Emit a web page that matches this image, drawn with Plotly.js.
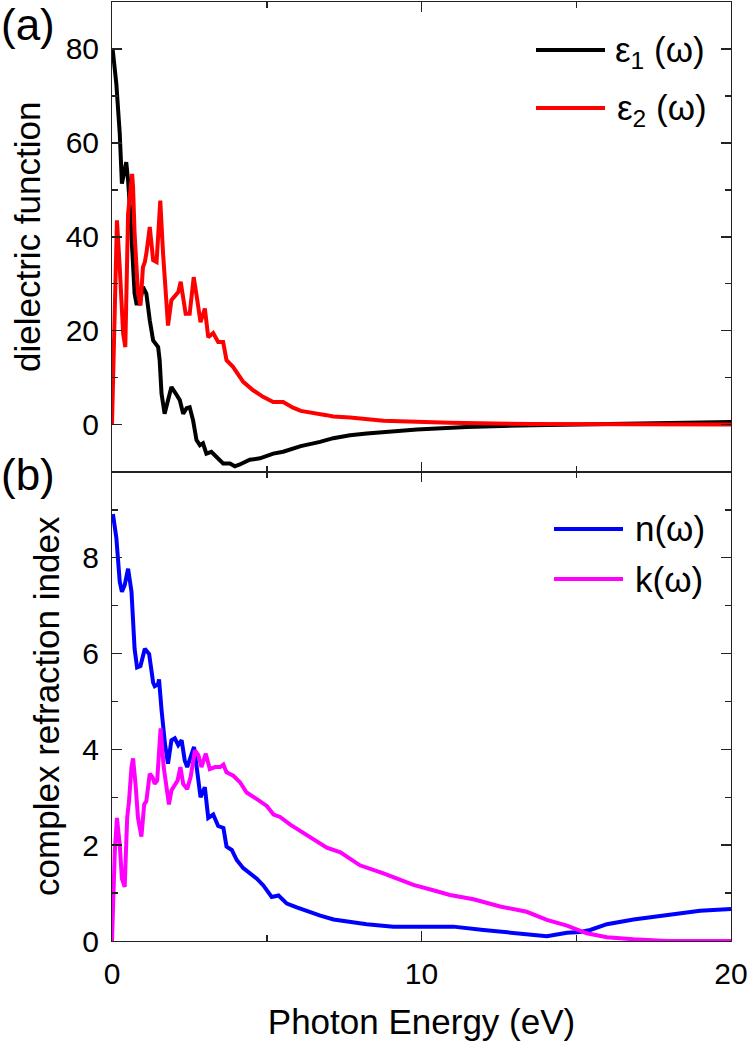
<!DOCTYPE html>
<html>
<head>
<meta charset="utf-8">
<script src="https://cdn.plot.ly/plotly-3.0.1.min.js"></script>
<style>html,body{margin:0;padding:0;background:#fff;}#chart{width:748px;height:1042px;}</style>
</head>
<body>
<div id="chart"></div>
<script>
// ---- data ----
const eps1E = [0.02,0.14,0.25,0.30,0.32,0.46,0.52,0.59,0.63,0.68,0.73,0.79,0.90,1.0,1.11,1.22,1.33,1.49,1.54,1.60,1.70,1.81,1.92,2.06,2.19,2.30,2.41,2.51,2.62,2.73,2.84,2.94,3.05,3.21,3.38,3.59,3.81,3.97,4.13,4.45,4.78,5.21,5.53,5.85,6.1,6.72,7.15,7.69,8.23,9.85,11.46,13.6,15.8,17.9,20];
const eps1  = [80,72.6,62,52.7,51.3,55.9,52,45,40.7,33.5,27.9,25.8,25.8,29.3,27.9,22.2,17.9,16.5,13.7,6.6,2.3,5.2,8.0,6.6,5.2,2.3,3.5,3.7,0.9,-3.3,-4.4,-4.0,-6.2,-5.8,-6.9,-8.3,-8.3,-8.9,-8.5,-7.5,-7.2,-6.2,-5.8,-5.1,-4.6,-3.7,-2.9,-2.3,-1.9,-1.07,-0.5,-0.15,0.06,0.34,0.55];

const eps2E = [0,0.16,0.25,0.36,0.43,0.52,0.65,0.68,0.73,0.84,0.92,1.0,1.06,1.11,1.22,1.33,1.44,1.56,1.65,1.74,1.81,1.92,2.03,2.14,2.22,2.30,2.38,2.51,2.64,2.74,2.86,3.0,3.11,3.27,3.43,3.59,3.70,3.91,4.24,4.56,4.88,5.21,5.53,5.85,6.1,6.93,7.15,7.69,8.77,10.9,13.6,16.5,20];
const eps2  = [0,43.5,33.5,19.4,16.5,44.9,53.4,50.6,40.7,27.9,25.4,33.5,34.6,36.4,42.1,35,34.6,47.7,36.4,26.5,21.1,26.5,27.5,28.2,30.4,26.5,23.6,23.6,31.4,27.2,21.8,24.7,18.6,19.5,17.6,17.6,13.7,12.3,9.1,7.3,5.9,4.8,4.8,3.6,2.9,2.0,1.7,1.5,0.8,0.4,0.1,0.05,0.0];

const nE = [0.03,0.14,0.25,0.32,0.41,0.52,0.63,0.68,0.73,0.81,0.92,1.06,1.2,1.33,1.38,1.49,1.52,1.60,1.71,1.81,1.92,2.03,2.14,2.25,2.35,2.43,2.54,2.65,2.75,2.86,3.0,3.11,3.27,3.43,3.6,3.70,3.87,4.03,4.24,4.46,4.68,4.89,5.16,5.38,5.65,5.97,6.30,6.73,7.16,7.70,8.23,9.09,10.06,11.03,12.0,13.08,14.05,14.7,15.13,15.45,15.99,16.85,17.93,19.0,20];
const nVal = [8.91,8.42,7.5,7.29,7.43,7.77,7.29,6.66,6.10,5.71,5.74,6.10,5.99,5.39,5.32,5.36,5.46,4.83,4.12,3.70,4.19,4.23,4.09,4.19,3.77,3.63,3.84,4.05,3.56,3.0,3.21,2.57,2.64,2.40,2.36,1.97,1.90,1.69,1.52,1.41,1.30,1.16,0.92,0.95,0.78,0.70,0.62,0.53,0.45,0.39,0.35,0.30,0.30,0.30,0.23,0.17,0.10,0.17,0.19,0.23,0.35,0.45,0.54,0.63,0.67];

const kE = [0,0.09,0.16,0.25,0.32,0.41,0.49,0.55,0.63,0.68,0.76,0.84,0.95,1.04,1.11,1.22,1.31,1.38,1.46,1.57,1.67,1.84,1.92,2.03,2.12,2.21,2.30,2.43,2.54,2.68,2.79,2.89,3.03,3.16,3.33,3.49,3.60,3.70,3.92,4.14,4.35,4.68,5.0,5.22,5.43,5.76,6.08,6.51,6.94,7.38,8.01,8.77,9.74,10.38,10.92,11.68,12.54,13.4,14.05,14.7,15.34,15.99,16.85,17.93,20];
const kVal = [0,1.87,2.57,2.01,1.30,1.13,2.57,2.92,3.63,3.81,3.28,2.57,2.18,2.85,2.92,3.49,3.42,3.28,3.35,4.44,3.63,2.85,3.14,3.28,3.35,3.63,3.28,3.17,3.42,3.98,3.88,3.63,3.91,3.59,3.63,3.63,3.68,3.52,3.45,3.31,3.10,2.96,2.82,2.64,2.59,2.43,2.30,2.12,1.95,1.85,1.58,1.41,1.17,1.06,0.96,0.87,0.72,0.61,0.44,0.32,0.16,0.08,0.035,0.0,0.0];

const seriesNames = ['ε<sub>1</sub> (ω)', 'ε<sub>2</sub> (ω)', 'n(ω)', 'k(ω)'];
const seriesColors = ['#000000', '#ff0000', '#0000ff', '#ff00ff'];
const xTitle = 'Photon Energy (eV)';
const yTitleA = 'dielectric function';
const yTitleB = 'complex refraction index';

// ---- layout helpers ----
const W = 748, H = 1042;
const M = {l: 112, r: 17, t: 2, b: 101};
const PW = W - M.l - M.r, PH = H - M.t - M.b;
const px2x = p => (p - M.l) / PW;
const px2y = p => (H - M.b - p) / PH;

const FONT = 'Liberation Sans, Arial, Helvetica, sans-serif';
const LW = 4;

function mk(x, y, i, xa, ya) {
  return {x: x, y: y, type: 'scatter', mode: 'lines', name: seriesNames[i],
    xaxis: xa, yaxis: ya, showlegend: false,
    line: {color: seriesColors[i], width: LW}};
}
const traces = [
  mk(eps1E, eps1, 0, 'x', 'y'),
  mk(eps2E, eps2, 1, 'x', 'y'),
  mk(nE, nVal, 2, 'x2', 'y2'),
  mk(kE, kVal, 3, 'x2', 'y2')
];

const axCommon = {
  showline: true, linecolor: '#222', linewidth: 1, mirror: 'allticks',
  ticks: 'inside', ticklen: 10, tickwidth: 1.5, tickcolor: '#222',
  showgrid: false, zeroline: false,
  tickfont: {family: FONT, size: 30, color: '#000'}
};
const minorCommon = {ticks: 'inside', ticklen: 6, tickwidth: 1.5, tickcolor: '#222', showgrid: false};

const layout = {
  width: W, height: H,
  margin: {l: M.l, r: M.r, t: M.t, b: M.b, pad: 0},
  paper_bgcolor: '#fff', plot_bgcolor: '#fff',
  showlegend: false,
  font: {family: FONT, color: '#000'},
  xaxis: Object.assign({}, axCommon, {
    domain: [0, 1], anchor: 'y', range: [0, 20], tick0: 0, dtick: 10,
    showticklabels: false, minor: Object.assign({dtick: 5}, minorCommon)
  }),
  yaxis: Object.assign({}, axCommon, {
    domain: [0.5, 1], anchor: 'x', range: [-10, 90], tick0: 0, dtick: 20,
    minor: Object.assign({dtick: 10}, minorCommon), ticklabelstandoff: 6,
    title: {text: yTitleA, font: {family: FONT, size: 35}, standoff: 14}
  }),
  xaxis2: Object.assign({}, axCommon, {
    domain: [0, 1], anchor: 'y2', range: [0, 20], tick0: 0, dtick: 10,
    minor: Object.assign({dtick: 5}, minorCommon), ticklabelstandoff: 6,
    title: {text: xTitle, font: {family: FONT, size: 35}, standoff: 20}
  }),
  yaxis2: Object.assign({}, axCommon, {
    domain: [0, 0.5], anchor: 'x2', range: [0, 9.8], tick0: 0, dtick: 2,
    minor: Object.assign({dtick: 1}, minorCommon), ticklabelstandoff: 6,
    title: {text: yTitleB, font: {family: FONT, size: 35}, standoff: 12}
  }),
  shapes: [
    {type: 'line', xref: 'paper', yref: 'paper', x0: px2x(536), x1: px2x(605), y0: px2y(50), y1: px2y(50), line: {color: seriesColors[0], width: LW}},
    {type: 'line', xref: 'paper', yref: 'paper', x0: px2x(536), x1: px2x(605), y0: px2y(108), y1: px2y(108), line: {color: seriesColors[1], width: LW}},
    {type: 'line', xref: 'paper', yref: 'paper', x0: px2x(554), x1: px2x(623), y0: px2y(529), y1: px2y(529), line: {color: seriesColors[2], width: LW}},
    {type: 'line', xref: 'paper', yref: 'paper', x0: px2x(554), x1: px2x(623), y0: px2y(579), y1: px2y(579), line: {color: seriesColors[3], width: LW}}
  ],
  annotations: [
    {xref: 'paper', yref: 'paper', x: px2x(613), y: px2y(52), xanchor: 'left', yanchor: 'middle', showarrow: false, text: seriesNames[0], font: {family: FONT, size: 35, color: '#000'}},
    {xref: 'paper', yref: 'paper', x: px2x(615), y: px2y(110), xanchor: 'left', yanchor: 'middle', showarrow: false, text: seriesNames[1], font: {family: FONT, size: 35, color: '#000'}},
    {xref: 'paper', yref: 'paper', x: px2x(633), y: px2y(529), xanchor: 'left', yanchor: 'middle', showarrow: false, text: seriesNames[2], font: {family: FONT, size: 35, color: '#000'}},
    {xref: 'paper', yref: 'paper', x: px2x(633), y: px2y(579), xanchor: 'left', yanchor: 'middle', showarrow: false, text: seriesNames[3], font: {family: FONT, size: 35, color: '#000'}},
    {xref: 'paper', yref: 'paper', x: px2x(28), y: px2y(24), xanchor: 'center', yanchor: 'middle', showarrow: false, text: '(a)', font: {family: FONT, size: 44, color: '#000'}},
    {xref: 'paper', yref: 'paper', x: px2x(28), y: px2y(474), xanchor: 'center', yanchor: 'middle', showarrow: false, text: '(b)', font: {family: FONT, size: 44, color: '#000'}}
  ]
};

Plotly.newPlot('chart', traces, layout, {displayModeBar: false, staticPlot: true});
</script>
</body>
</html>
